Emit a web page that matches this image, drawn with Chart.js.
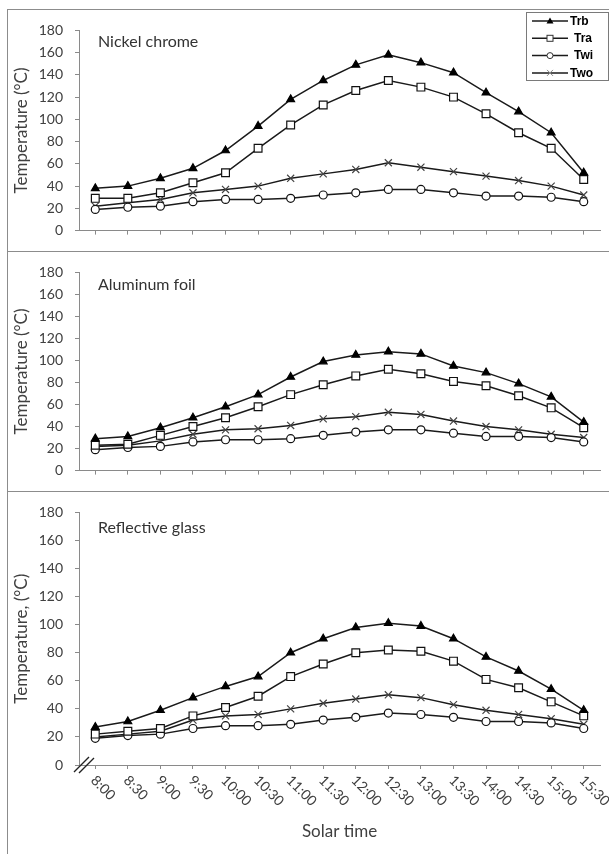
<!DOCTYPE html>
<html><head><meta charset="utf-8">
<script src="https://cdn.jsdelivr.net/npm/chart.js@4.4.1/dist/chart.umd.min.js"></script>
<style>
html,body{margin:0;padding:0;background:#fff;}
#wrap{position:relative;width:609px;height:854px;overflow:hidden;background:#fff;}
.frame{position:absolute;left:7px;top:9px;width:640px;height:900px;border-left:1px solid #8c8c8c;border-top:1px solid #8c8c8c;}
.sep{position:absolute;left:7px;width:640px;height:0;border-top:1px solid #8c8c8c;}
canvas{position:absolute;}
</style></head>
<body><div id="wrap">
<div class="frame"></div>
<div class="sep" style="top:251px"></div>
<div class="sep" style="top:491px"></div>
<canvas id="c1" style="left:8px;top:10px" width="601" height="241"></canvas>
<canvas id="c2" style="left:8px;top:252px" width="601" height="239"></canvas>
<canvas id="c3" style="left:8px;top:492px" width="601" height="362"></canvas>
</div>
<script>
const categories = ['8:00','8:30','9:00','9:30','10:00','10:30','11:00','11:30','12:00','12:30','13:00','13:30','14:00','14:30','15:00','15:30'];
const seriesNames = ['Trb','Tra','Twi','Two'];
const yTicks = [0,20,40,60,80,100,120,140,160,180];

// Nickel chrome
const nickelTrb = [38,40,47,56,72,94,118,135,149,158,151,142,124,107,88,52];
const nickelTra = [29,29,34,43,52,74,95,113,126,135,129,120,105,88,74,46];
const nickelTwi = [19,21,22,26,28,28,29,32,34,37,37,34,31,31,30,26];
const nickelTwo = [22,25,28,34,37,40,47,51,55,61,57,53,49,45,40,32];
// Aluminum foil
const alumTrb = [29,31,39,48,58,69,85,99,105,108,106,95,89,79,67,44];
const alumTra = [23,24,32,40,48,58,69,78,86,92,88,81,77,68,57,39];
const alumTwi = [19,21,22,26,28,28,29,32,35,37,37,34,31,31,30,26];
const alumTwo = [22,23,27,33,37,38,41,47,49,53,51,45,40,37,33,30];
// Reflective glass
const glassTrb = [27,31,39,48,56,63,80,90,98,101,99,90,77,67,54,39];
const glassTra = [22,24,26,35,41,49,63,72,80,82,81,74,61,55,45,35];
const glassTwi = [19,21,22,26,28,28,29,32,34,37,36,34,31,31,30,26];
const glassTwo = [20,22,24,32,35,36,40,44,47,50,48,43,39,36,33,29];

const FONT = 'Lato, "Open Sans", sans-serif';
const TXT = '#404040';
const AX = '#8a8a8a';

const styles = [
  {pointStyle:'triangle', pointRadius:4.5, pointBackgroundColor:'#000', pointBorderColor:'#000'},
  {pointStyle:'rect', pointRadius:5.5, pointBackgroundColor:'#fff', pointBorderColor:'#111'},
  {pointStyle:'circle', pointRadius:4, pointBackgroundColor:'#fff', pointBorderColor:'#111'},
  {pointStyle:'crossRot', pointRadius:5, pointBackgroundColor:'#fff', pointBorderColor:'#444'}
];

function makeDatasets(arrs){
  return arrs.map((d,i)=>Object.assign({
    label: seriesNames[i], data: d, borderColor:'#1a1a1a', borderWidth:1.5,
    pointBorderWidth:1.2, tension:0, fill:false
  }, styles[i]));
}

const panelTitle = {
  id:'panelTitle',
  afterDraw(chart, args, opts){
    const ctx = chart.ctx;
    ctx.save();
    ctx.font = '16px ' + FONT;
    ctx.fillStyle = '#333';
    ctx.textBaseline = 'middle';
    ctx.textAlign = 'left';
    ctx.fillText(opts.text, chart.chartArea.left + 19, chart.chartArea.top + opts.dy);
    ctx.restore();
  }
};

const boxLegend = {
  id:'boxLegend',
  afterDraw(chart, args, opts){
    if(!opts.show) return;
    const ctx = chart.ctx;
    ctx.save();
    const bx = 518, by = 2, bw = 82, bh = 68;
    ctx.fillStyle = '#fff';
    ctx.fillRect(bx, by, bw, bh);
    ctx.strokeStyle = '#7a7a7a';
    ctx.lineWidth = 1;
    ctx.strokeRect(bx+0.5, by+0.5, bw, bh);
    chart.data.datasets.forEach((ds, i) => {
      const y = by + 9 + i*17.3;
      ctx.strokeStyle = '#1a1a1a';
      ctx.lineWidth = 1.5;
      ctx.beginPath(); ctx.moveTo(bx+6, y); ctx.lineTo(bx+42, y); ctx.stroke();
      const mx = bx + 24;
      ctx.lineWidth = 1;
      if(ds.pointStyle === 'triangle'){
        ctx.fillStyle = '#000';
        ctx.beginPath(); ctx.moveTo(mx, y-3.5); ctx.lineTo(mx+3.5, y+2.5); ctx.lineTo(mx-3.5, y+2.5); ctx.closePath(); ctx.fill();
      } else if(ds.pointStyle === 'rect'){
        ctx.fillStyle = '#fff'; ctx.strokeStyle = '#333';
        ctx.fillRect(mx-3, y-3, 6, 6); ctx.strokeRect(mx-3, y-3, 6, 6);
      } else if(ds.pointStyle === 'circle'){
        ctx.fillStyle = '#fff'; ctx.strokeStyle = '#333';
        ctx.beginPath(); ctx.arc(mx, y, 3, 0, Math.PI*2); ctx.fill(); ctx.stroke();
      } else {
        ctx.strokeStyle = '#888';
        ctx.beginPath(); ctx.moveTo(mx-3,y-3); ctx.lineTo(mx+3,y+3); ctx.moveTo(mx+3,y-3); ctx.lineTo(mx-3,y+3); ctx.stroke();
      }
      ctx.fillStyle = '#000';
      ctx.font = 'bold 12px "Liberation Sans", Arial, sans-serif';
      ctx.textBaseline = 'middle';
      ctx.textAlign = 'left';
      ctx.fillText(ds.label, bx + 44 + (i===1||i===2 ? 4 : 0), y+0.5);
    });
    ctx.restore();
  }
};

const bottomAxis = {
  id:'bottomAxis',
  afterDraw(chart, args, opts){
    if(!opts.show) return;
    const ctx = chart.ctx;
    const xs = chart.scales.x;
    const B = chart.chartArea.bottom, L = chart.chartArea.left;
    ctx.save();
    ctx.fillStyle = TXT;
    ctx.font = '14px ' + FONT;
    ctx.textAlign = 'left';
    ctx.textBaseline = 'middle';
    categories.forEach((c, i) => {
      const x = xs.getPixelForTick(i);
      ctx.save();
      ctx.translate(x - 2, B + 13);
      ctx.rotate(Math.PI/4);
      ctx.fillText(c, 0, 0);
      ctx.restore();
    });
    ctx.font = '17px ' + FONT;
    ctx.textAlign = 'center';
    ctx.fillText(opts.title, (chart.chartArea.left + chart.chartArea.right)/2, B + 67);
    // axis break mark
    ctx.strokeStyle = '#222';
    ctx.lineWidth = 1.4;
    ctx.beginPath();
    ctx.moveTo(L-5, B+7); ctx.lineTo(L+10, B-8);
    ctx.moveTo(L, B+8); ctx.lineTo(L+15, B-7);
    ctx.stroke();
    ctx.restore();
  }
};

function makeChart(id, arrs, title, titleDy, yTitle, padTop, padBottom, xHeight, opts){
  return new Chart(document.getElementById(id), {
    type:'line',
    data:{labels:categories, datasets:makeDatasets(arrs)},
    options:{
      responsive:false, animation:false, devicePixelRatio:1,
      layout:{padding:{top:padTop, right:9, bottom:padBottom, left:0}},
      plugins:{
        legend:{display:false}, tooltip:{enabled:false},
        panelTitle:{text:title, dy:titleDy},
        boxLegend:{show: !!opts.legend},
        bottomAxis:{show: !!opts.bottom, title:'Solar time'}
      },
      scales:{
        x:{
          type:'category', offset:true,
          grid:{display:true, drawOnChartArea:false, drawTicks:true, tickLength:4, color:AX, offset:false},
          border:{display:true, color:AX, width:1},
          ticks:{display:false},
          afterFit(s){ s.height = xHeight; }
        },
        y:{
          min:0, max:180,
          afterBuildTicks(s){ s.ticks = yTicks.map(v=>({value:v})); },
          grid:{display:true, drawOnChartArea:false, drawTicks:true, tickLength:4, color:AX},
          border:{display:true, color:AX, width:1},
          ticks:{color:TXT, font:{family:FONT, size:14}, padding:12},
          title:{display:true, text:yTitle, color:TXT, font:{family:FONT, size:17}, padding:{top:3,bottom:0}},
          afterFit(s){ s.width = 71; }
        }
      }
    },
    plugins:[panelTitle, boxLegend, bottomAxis]
  });
}

makeChart('c1', [nickelTrb,nickelTra,nickelTwi,nickelTwo], 'Nickel chrome', 11, 'Temperature (°C)', 13, 1, 5, {legend:true});
makeChart('c2', [alumTrb,alumTra,alumTwi,alumTwo], 'Aluminum foil', 12, 'Temperature (°C)', 10, 6, 5, {});
makeChart('c3', [glassTrb,glassTra,glassTwi,glassTwo], 'Reflective glass', 15, 'Temperature, (°C)', 10, 0, 89, {bottom:true});
</script>
</body></html>
